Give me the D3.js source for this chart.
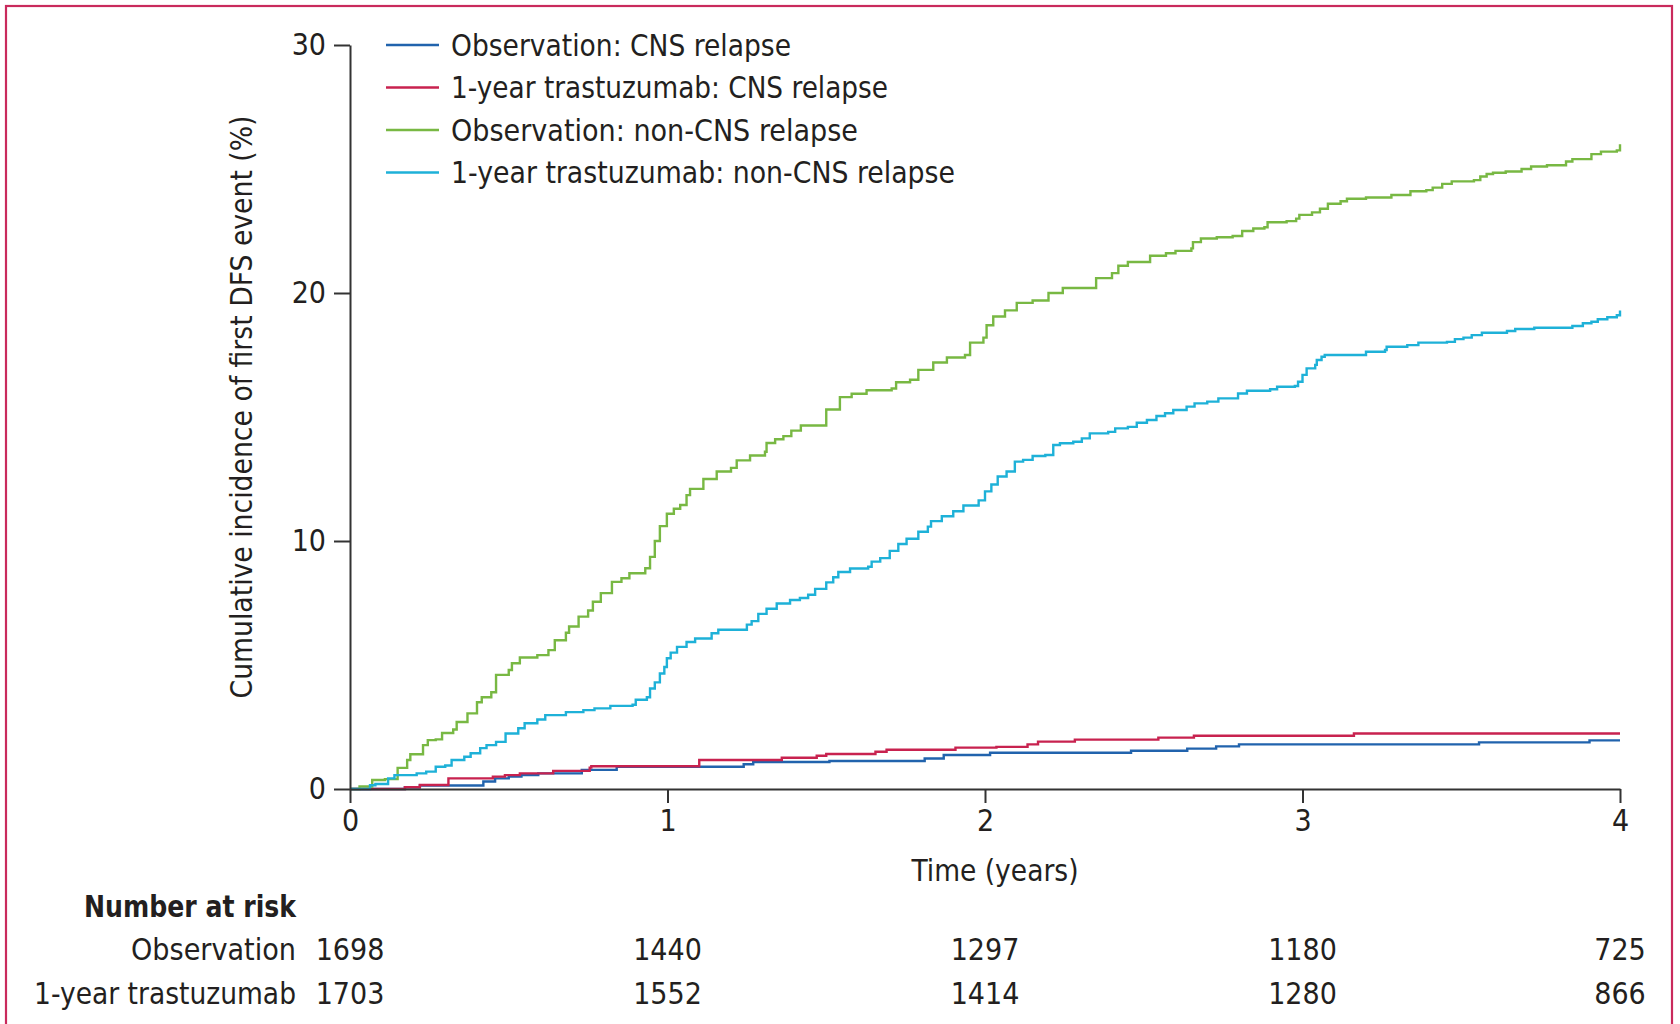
<!DOCTYPE html>
<html>
<head>
<meta charset="utf-8">
<script src="https://cdn.jsdelivr.net/npm/d3@7"></script>
<style>
    body { margin: 0; background: #fff; }
    svg text { font-family: "Liberation Sans Narrow", "DejaVu Sans Condensed", "Open Sans", sans-serif; fill: #231f20; }
</style>
</head>
<body>
<div id="chart"></div>
<script>
    // step points [years, %]
    const obsCns = [[0, 0], [0.173, 0.07], [0.22, 0.14], [0.42, 0.3], [0.457, 0.43], [0.5, 0.5], [0.54, 0.56], [0.593, 0.63],
        [0.73, 0.77], [0.84, 0.9], [1.24, 1.0], [1.27, 1.09], [1.51, 1.13], [1.81, 1.23], [1.87, 1.37], [2.016, 1.46],
        [2.46, 1.54], [2.637, 1.63], [2.728, 1.72], [2.8, 1.8], [3.556, 1.88], [3.904, 1.96], [4.0, 1.96]];

    const trasCns = [[0, 0], [0.173, 0.07], [0.22, 0.16], [0.31, 0.43], [0.45, 0.5], [0.488, 0.56], [0.535, 0.63],
        [0.64, 0.73], [0.755, 0.86], [0.76, 0.92], [1.1, 1.17], [1.36, 1.26], [1.47, 1.34], [1.5, 1.41], [1.655, 1.5],
        [1.69, 1.58], [1.907, 1.67], [2.036, 1.7], [2.134, 1.8], [2.167, 1.91], [2.283, 1.99], [2.546, 2.07],
        [2.658, 2.15], [3.162, 2.24], [4.0, 2.24]];

    const obsNonCns = [[0, 0], [0.03, 0.1], [0.07, 0.36], [0.11, 0.4], [0.15, 0.85], [0.18, 1.17], [0.19, 1.4], [0.23, 1.77],
        [0.245, 1.97], [0.27, 2.0], [0.29, 2.26], [0.325, 2.4], [0.336, 2.7], [0.37, 3.05], [0.4, 3.5], [0.415, 3.7],
        [0.445, 3.9], [0.46, 4.6], [0.5, 4.8], [0.51, 5.07], [0.535, 5.3], [0.59, 5.4], [0.625, 5.6], [0.645, 6.0],
        [0.68, 6.3], [0.69, 6.55], [0.72, 6.95], [0.75, 7.2], [0.765, 7.55], [0.79, 7.9], [0.825, 8.35], [0.855, 8.5],
        [0.88, 8.7], [0.93, 8.9], [0.945, 9.36], [0.96, 10.0], [0.976, 10.6], [0.998, 11.1], [1.02, 11.3], [1.04, 11.45],
        [1.06, 11.85], [1.071, 12.1], [1.113, 12.5], [1.155, 12.8], [1.2, 12.95], [1.218, 13.25], [1.26, 13.45],
        [1.307, 13.6], [1.312, 13.95], [1.339, 14.1], [1.365, 14.23], [1.39, 14.45], [1.42, 14.66], [1.5, 15.3],
        [1.543, 15.8], [1.58, 15.94], [1.627, 16.08], [1.706, 16.15], [1.72, 16.4], [1.764, 16.5], [1.79, 16.9],
        [1.837, 17.2], [1.88, 17.4], [1.937, 17.5], [1.953, 18.0], [1.995, 18.2], [2.005, 18.7], [2.026, 19.05],
        [2.063, 19.3], [2.1, 19.6], [2.15, 19.7], [2.2, 20.0], [2.245, 20.2], [2.35, 20.6], [2.4, 20.8], [2.42, 21.1],
        [2.45, 21.25], [2.52, 21.5], [2.57, 21.6], [2.6, 21.7], [2.65, 21.8], [2.655, 22.05], [2.68, 22.2], [2.73, 22.25],
        [2.78, 22.3], [2.81, 22.5], [2.845, 22.6], [2.88, 22.65], [2.89, 22.85], [2.95, 22.9], [2.98, 23.0], [2.99, 23.15],
        [3.03, 23.25], [3.055, 23.4], [3.08, 23.6], [3.12, 23.7], [3.14, 23.8], [3.2, 23.85], [3.28, 23.95], [3.34, 24.1],
        [3.39, 24.15], [3.41, 24.25], [3.44, 24.4], [3.47, 24.5], [3.54, 24.55], [3.56, 24.7], [3.58, 24.8], [3.6, 24.85],
        [3.64, 24.9], [3.69, 25.0], [3.72, 25.1], [3.77, 25.15], [3.83, 25.3], [3.85, 25.4], [3.91, 25.6], [3.94, 25.7],
        [3.99, 25.75], [4.0, 26.0]];

    const trasNonCns = [[0, 0], [0.063, 0.15], [0.08, 0.2], [0.12, 0.43], [0.14, 0.56], [0.21, 0.63], [0.24, 0.7],
        [0.27, 0.9], [0.3, 0.95], [0.32, 1.17], [0.36, 1.3], [0.38, 1.44], [0.41, 1.65], [0.43, 1.77], [0.46, 1.9],
        [0.49, 2.24], [0.53, 2.45], [0.55, 2.65], [0.59, 2.8], [0.615, 2.98], [0.68, 3.1], [0.735, 3.18], [0.77, 3.25],
        [0.82, 3.35], [0.89, 3.4], [0.9, 3.6], [0.935, 3.7], [0.945, 4.05], [0.96, 4.3], [0.976, 4.66], [0.99, 4.92],
        [0.998, 5.27], [1.01, 5.5], [1.03, 5.73], [1.06, 5.93], [1.087, 6.07], [1.139, 6.28], [1.16, 6.42], [1.25, 6.63],
        [1.265, 6.77], [1.286, 7.06], [1.312, 7.27], [1.344, 7.48], [1.386, 7.62], [1.417, 7.7], [1.443, 7.83],
        [1.465, 8.07], [1.5, 8.33], [1.522, 8.54], [1.538, 8.75], [1.575, 8.89], [1.632, 8.96], [1.643, 9.17],
        [1.67, 9.31], [1.7, 9.6], [1.727, 9.88], [1.753, 10.09], [1.79, 10.37], [1.82, 10.58], [1.83, 10.8],
        [1.864, 11.0], [1.9, 11.2], [1.932, 11.43], [1.98, 11.64], [2.0, 12.0], [2.02, 12.28], [2.04, 12.6],
        [2.068, 12.8], [2.094, 13.2], [2.12, 13.27], [2.15, 13.43], [2.19, 13.47], [2.215, 13.87], [2.236, 13.94],
        [2.278, 14.0], [2.305, 14.14], [2.33, 14.34], [2.388, 14.4], [2.41, 14.54], [2.45, 14.6], [2.478, 14.77],
        [2.51, 14.88], [2.54, 15.04], [2.567, 15.15], [2.593, 15.28], [2.635, 15.42], [2.66, 15.55], [2.7, 15.62],
        [2.735, 15.75], [2.797, 15.95], [2.825, 16.06], [2.898, 16.12], [2.92, 16.22], [2.976, 16.25], [2.986, 16.42],
        [3.0, 16.7], [3.013, 16.96], [3.04, 17.1], [3.045, 17.3], [3.06, 17.43], [3.07, 17.5], [3.2, 17.63],
        [3.26, 17.7], [3.265, 17.83], [3.33, 17.9], [3.365, 18.0], [3.455, 18.03], [3.48, 18.14], [3.507, 18.2],
        [3.533, 18.3], [3.565, 18.4], [3.644, 18.47], [3.67, 18.55], [3.73, 18.6], [3.85, 18.67], [3.883, 18.78],
        [3.91, 18.84], [3.93, 18.94], [3.96, 19.02], [3.99, 19.1], [4.0, 19.29]];

    const seriesNames = ['Observation: CNS relapse', '1-year trastuzumab: CNS relapse',
        'Observation: non-CNS relapse', '1-year trastuzumab: non-CNS relapse'];
    const seriesColors = ['#2163ad', '#c8224f', '#78b843', '#1eb1d8'];
    const seriesData = [obsCns, trasCns, obsNonCns, trasNonCns];

    const xTicks = [0, 1, 2, 3, 4];
    const yTicks = [0, 10, 20, 30];
    const riskGroups = ['Observation', '1-year trastuzumab'];
    const obsRisk = [1698, 1440, 1297, 1180, 725];
    const trasRisk = [1703, 1552, 1414, 1280, 866];

    const width = 1680;
    const height = 1024;
    const fs = 30;

    const svg = d3.select('#chart')
        .append('svg')
        .attr('width', width)
        .attr('height', height);

    svg.append('rect')
        .attr('width', width).attr('height', height)
        .attr('fill', '#fff');

    // frame round the figure
    svg.append('rect')
        .attr('x', 6).attr('y', 6)
        .attr('width', 1666).attr('height', 1040)
        .attr('fill', 'none')
        .attr('stroke', '#c92a5c')
        .attr('stroke-width', 2.2);

    const x = d3.scaleLinear().domain([0, 4]).range([350, 1620]);
    const y = d3.scaleLinear().domain([0, 30]).range([789, 45]);

    const fit = (sel, w) => sel.attr('textLength', w).attr('lengthAdjust', 'spacingAndGlyphs');

    const line = d3.line()
        .x(d => x(d[0]))
        .y(d => y(d[1]))
        .curve(d3.curveStepAfter);

    svg.append('g')
        .selectAll('path')
        .data(seriesData)
        .enter()
        .append('path')
        .attr('d', line)
        .attr('fill', 'none')
        .attr('stroke', (d, i) => seriesColors[i])
        .attr('stroke-width', 2.4);

    const xAxis = svg.append('g')
        .attr('transform', `translate(0,${y(0)})`)
        .call(d3.axisBottom(x).tickValues(xTicks).tickSize(14).tickSizeOuter(0).tickPadding(7).tickFormat(d3.format('d')));

    const yAxis = svg.append('g')
        .attr('transform', `translate(${x(0)},0)`)
        .call(d3.axisLeft(y).tickValues(yTicks).tickSize(16).tickSizeOuter(0).tickPadding(8));

    [xAxis, yAxis].forEach(a => {
        a.selectAll('path, line').attr('stroke', '#333').attr('stroke-width', 2);
        a.selectAll('text').style('font-size', `${fs}px`).attr('fill', '#231f20');
    });

    svg.append('text')
        .attr('transform', `translate(241,407) rotate(-90)`)
        .attr('text-anchor', 'middle')
        .attr('dominant-baseline', 'central')
        .style('font-size', `${fs}px`)
        .text('Cumulative incidence of first DFS event (%)')
        .call(fit, 583);

    svg.append('text')
        .attr('x', 995).attr('y', 870)
        .attr('text-anchor', 'middle')
        .attr('dominant-baseline', 'central')
        .style('font-size', `${fs}px`)
        .text('Time (years)')
        .call(fit, 167);

    // legend
    const legendWidths = [340, 437, 407, 504];
    const legend = svg.append('g')
        .selectAll('g')
        .data(seriesNames)
        .enter()
        .append('g')
        .attr('transform', (d, i) => `translate(386,${45 + i * 42.5})`);

    legend.append('line')
        .attr('x1', 0).attr('x2', 53)
        .attr('stroke', (d, i) => seriesColors[i])
        .attr('stroke-width', 2.4);

    legend.append('text')
        .attr('x', 65)
        .attr('dominant-baseline', 'central')
        .style('font-size', `${fs}px`)
        .text(d => d)
        .each(function (d, i) { fit(d3.select(this), legendWidths[i]); });

    // number at risk table
    svg.append('text')
        .attr('x', 296).attr('y', 906)
        .attr('text-anchor', 'end')
        .attr('dominant-baseline', 'central')
        .style('font-size', `${fs}px`)
        .style('font-weight', 'bold')
        .text('Number at risk')
        .call(fit, 212);

    const rowY = [949, 993];
    const rowWidths = [165, 262];
    [obsRisk, trasRisk].forEach((row, r) => {
        svg.append('text')
            .attr('x', 296).attr('y', rowY[r])
            .attr('text-anchor', 'end')
            .attr('dominant-baseline', 'central')
            .style('font-size', `${fs}px`)
            .text(riskGroups[r])
            .call(fit, rowWidths[r]);

        svg.append('g')
            .selectAll('text')
            .data(row)
            .enter()
            .append('text')
            .attr('x', (d, i) => x(xTicks[i]))
            .attr('y', rowY[r])
            .attr('text-anchor', 'middle')
            .attr('dominant-baseline', 'central')
            .style('font-size', `${fs}px`)
            .text(d => d);
    });
</script>
</body>
</html>
